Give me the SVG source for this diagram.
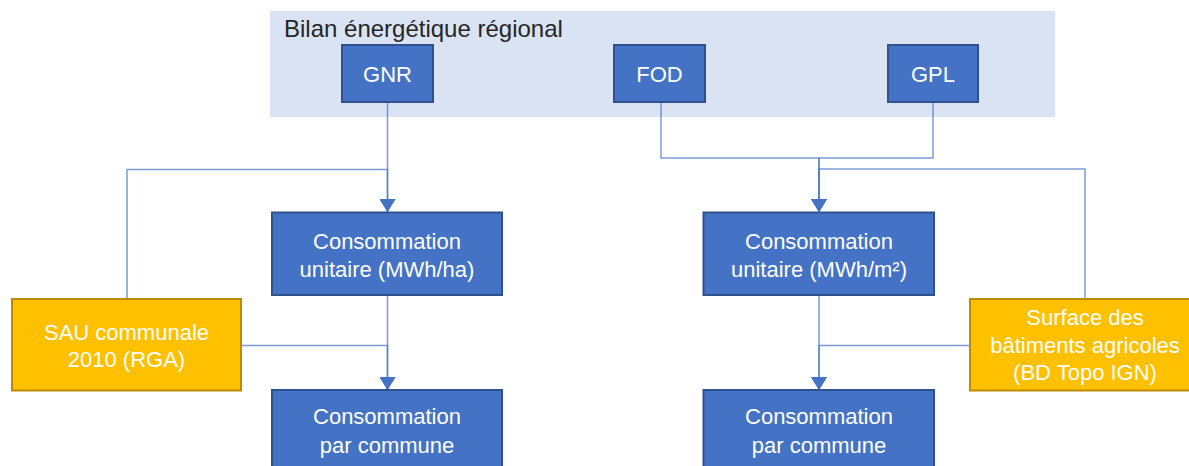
<svg xmlns="http://www.w3.org/2000/svg" width="1189" height="466" viewBox="0 0 1189 466">
<style>
.bg{fill:#DAE3F3}
.title{font-family:"Liberation Sans",Arial,sans-serif;font-size:24px;fill:#262626}
.blue{fill:#4472C4;stroke:#2F528F;stroke-width:2}
.gold{fill:#FFC000;stroke:#BC8C00;stroke-width:2}
.t{font-family:"Liberation Sans",Arial,sans-serif;font-size:22px;fill:#FFFFFF;text-anchor:middle}
.c{fill:none;stroke:#4472C4;stroke-opacity:0.7;stroke-width:1.5}
.a{marker-end:url(#arr)}
</style>
<defs>
<marker id="arr" markerUnits="userSpaceOnUse" markerWidth="13" markerHeight="16" viewBox="0 0 13 16" refX="13" refY="8" orient="auto">
<path d="M0,0 L13,8 L0,16 Z" fill="#4472C4"/>
</marker>
</defs>
<rect class="bg" x="270" y="11" width="785" height="106"/>
<text class="title" x="284" y="37">Bilan énergétique régional</text>
<g id="connectors">
<path class="c a" d="M387.5,102 V212"/>
<path class="c a" d="M127,299 V169.5 H387.5 V212"/>
<path class="c a" d="M387.5,295 V390"/>
<path class="c a" d="M241,345.5 H387.5 V390"/>
<path class="c a" d="M661,102 V158 H819 V212"/>
<path class="c a" d="M933,102 V158 H819 V212"/>
<path class="c a" d="M1085,299 V169 H819 V212"/>
<path class="c a" d="M819,295 V390"/>
<path class="c a" d="M970,345.5 H819 V390"/>
</g>
<g id="gnr"><rect class="blue" x="342" y="45" width="91" height="57"/><text class="t" x="387.5" y="81.5" font-size="21">GNR</text></g>
<g id="fod"><rect class="blue" x="614" y="45" width="91" height="57"/><text class="t" x="659.5" y="81.5" font-size="21">FOD</text></g>
<g id="gpl"><rect class="blue" x="888" y="45" width="90" height="57"/><text class="t" x="933" y="81.5" font-size="21">GPL</text></g>
<g id="conso-ha"><rect class="blue" x="272" y="212.5" width="230" height="82.5"/><text class="t" x="387" y="249">Consommation</text><text class="t" x="387" y="277">unitaire (MWh/ha)</text></g>
<g id="conso-m2"><rect class="blue" x="703.5" y="212.5" width="230.5" height="82.5"/><text class="t" x="819" y="249">Consommation</text><text class="t" x="819" y="277">unitaire (MWh/m²)</text></g>
<g id="commune-left"><rect class="blue" x="272" y="390" width="230" height="90"/><text class="t" x="387" y="424">Consommation</text><text class="t" x="387" y="453">par commune</text></g>
<g id="commune-right"><rect class="blue" x="703.5" y="390" width="230.5" height="90"/><text class="t" x="819" y="424">Consommation</text><text class="t" x="819" y="453">par commune</text></g>
<g id="sau"><rect class="gold" x="12" y="299" width="229" height="91.5"/><text class="t" x="126.5" y="339.5">SAU communale</text><text class="t" x="126.5" y="367">2010 (RGA)</text></g>
<g id="surface"><rect class="gold" x="970" y="299" width="230" height="91.5"/><text class="t" x="1085" y="325">Surface des</text><text class="t" x="1085" y="353">bâtiments agricoles</text><text class="t" x="1085" y="380">(BD Topo IGN)</text></g>
</svg>
